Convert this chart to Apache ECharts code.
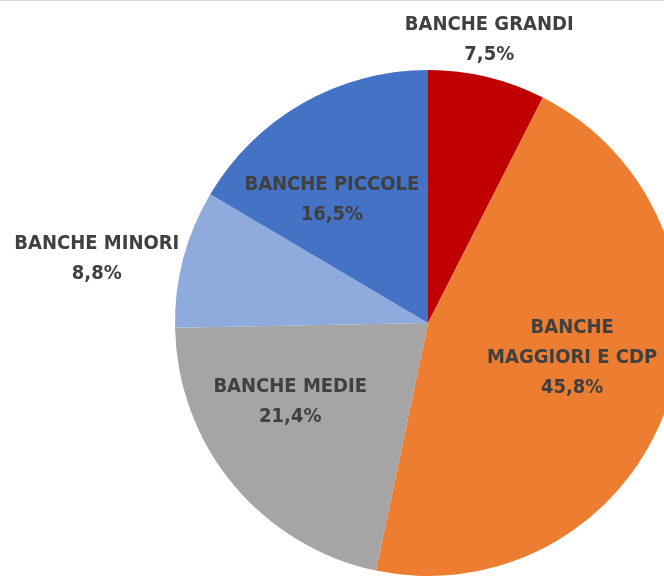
<!DOCTYPE html>
<html>
<head>
<meta charset="utf-8">
<script src="https://cdn.jsdelivr.net/npm/echarts@6/dist/echarts.min.js"></script>
<style>
  html, body { margin: 0; padding: 0; background: #ffffff; }
  #chart { width: 664px; height: 579px; }
</style>
</head>
<body>
<div id="chart"></div>
<script>
// Quote per gruppo dimensionale di banche (%)
const categories = ['BANCHE GRANDI', 'BANCHE\nMAGGIORI E CDP', 'BANCHE MEDIE', 'BANCHE MINORI', 'BANCHE PICCOLE'];
const values = [7.5, 45.8, 21.4, 8.8, 16.5];
const colors = ['#C00000', '#ED7D31', '#A5A5A5', '#8FAADC', '#4472C4'];

// label nudges (px) from the default inside anchor of each slice
const labelShift = [
  { dx: 31, dy: -157 },
  { dx: 22, dy: -8 },
  { dx: -38, dy: -4 },
  { dx: -206, dy: -31 },
  { dx: -32, dy: -11 }
];

const fmt = v => v.toFixed(1).replace('.', ',') + '%';

const chart = echarts.init(document.getElementById('chart'), null, { renderer: 'canvas' });

chart.setOption({
  backgroundColor: '#ffffff',
  animation: false,
  graphic: [{
    type: 'line',
    shape: { x1: 0, y1: 0.5, x2: 664, y2: 0.5 },
    style: { stroke: '#d9d9d9', lineWidth: 1 },
    silent: true
  }],
  series: [{
    type: 'pie',
    center: [428, 323],
    radius: [0, 253],
    startAngle: 90,
    clockwise: true,
    avoidLabelOverlap: false,
    data: categories.map((name, i) => ({
      name,
      value: values[i],
      itemStyle: { color: colors[i] }
    })),
    label: {
      show: true,
      position: 'inside',
      formatter: p => p.name + '\n' + fmt(p.value),
      fontFamily: '"DejaVu Sans Condensed", "Liberation Sans Narrow", sans-serif',
      fontWeight: 'bold',
      fontSize: 20,
      lineHeight: 30,
      color: '#404040',
      align: 'center'
    },
    labelLine: { show: false },
    labelLayout: p => labelShift[p.dataIndex]
  }]
});
</script>
</body>
</html>
